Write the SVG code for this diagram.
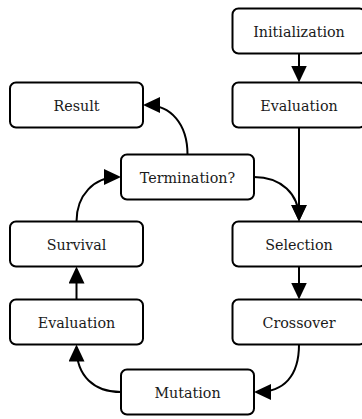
<svg xmlns="http://www.w3.org/2000/svg" width="362" height="419" viewBox="0 0 362 419">
<defs>
<style>
.box{fill:#fff;stroke:#000;stroke-width:2}
.lbl{font-family:'DejaVu Serif',serif;font-size:14.3px;fill:#1a1a1a;text-anchor:middle}
.edge{fill:none;stroke:#000;stroke-width:2}
</style>
<marker id="ah" markerUnits="userSpaceOnUse" markerWidth="18" markerHeight="18" viewBox="0 0 18 18" refX="14" refY="8" orient="auto">
<path d="M0,0 L17,8 L0,16 z" fill="#000"/>
</marker>
</defs>
<g id="connectors">
<path class="edge" marker-end="url(#ah)" d="M299,53.5 L299,79.5"/>
<path class="edge" marker-end="url(#ah)" d="M299,127.5 L299,218.5"/>
<path class="edge" marker-end="url(#ah)" d="M254,177 C281,177 299,194 299,218.5"/>
<path class="edge" marker-end="url(#ah)" d="M299,266.5 L299,296.5"/>
<path class="edge" marker-end="url(#ah)" d="M299,344.5 C299,376 284,392 257,392"/>
<path class="edge" marker-end="url(#ah)" d="M121,392 C94,392 76.5,376 76.5,347.5"/>
<path class="edge" marker-end="url(#ah)" d="M76.5,299.5 L76.5,269.5"/>
<path class="edge" marker-end="url(#ah)" d="M76.5,221.5 C76.5,195 94,177 118,177"/>
<path class="edge" marker-end="url(#ah)" d="M187.5,154.5 C187.5,124 171,105 146,105"/>
</g>
<g id="init"><rect class="box" x="232.5" y="8.5" width="133" height="45" rx="6"/><text class="lbl" x="299" y="36.5">Initialization</text></g>
<g id="eval1"><rect class="box" x="232.5" y="82.5" width="133" height="45" rx="6"/><text class="lbl" x="299" y="110.5">Evaluation</text></g>
<g id="result"><rect class="box" x="10" y="82.5" width="133" height="45" rx="6"/><text class="lbl" x="76.5" y="110.5">Result</text></g>
<g id="termination"><rect class="box" x="121" y="154.5" width="133" height="45" rx="6"/><text class="lbl" x="187.5" y="182.5">Termination?</text></g>
<g id="survival"><rect class="box" x="10" y="221.5" width="133" height="45" rx="6"/><text class="lbl" x="76.5" y="249.5">Survival</text></g>
<g id="selection"><rect class="box" x="232.5" y="221.5" width="133" height="45" rx="6"/><text class="lbl" x="299" y="249.5">Selection</text></g>
<g id="eval2"><rect class="box" x="10" y="299.5" width="133" height="45" rx="6"/><text class="lbl" x="76.5" y="327.5">Evaluation</text></g>
<g id="crossover"><rect class="box" x="232.5" y="299.5" width="133" height="45" rx="6"/><text class="lbl" x="299" y="327.5">Crossover</text></g>
<g id="mutation"><rect class="box" x="121" y="369.5" width="133" height="45" rx="6"/><text class="lbl" x="187.5" y="397.5">Mutation</text></g>
</svg>
